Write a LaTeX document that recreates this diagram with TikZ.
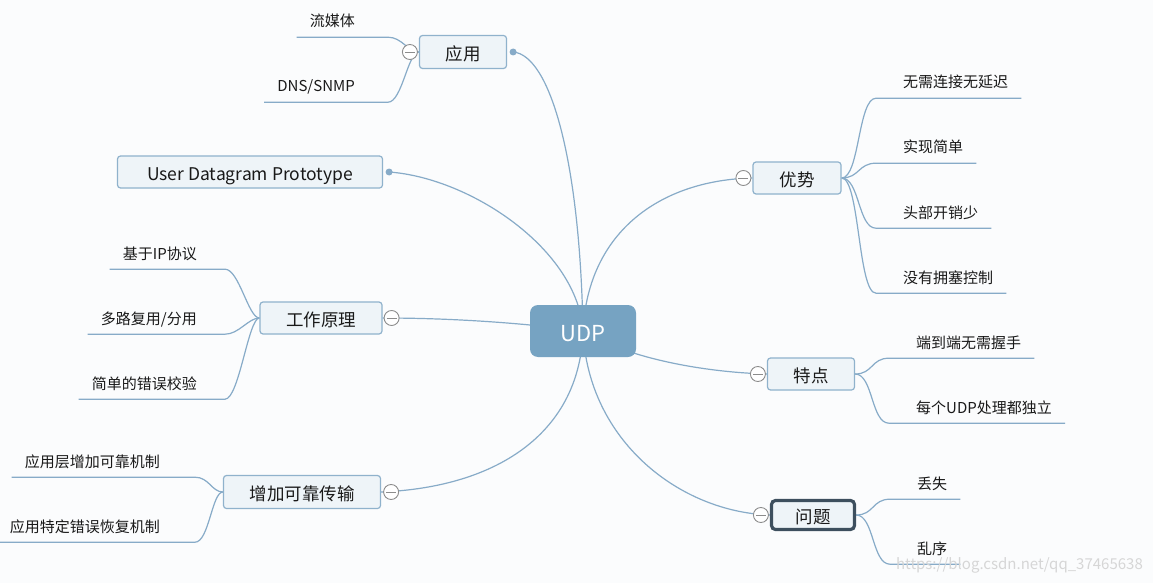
\documentclass[tikz,border=0pt]{standalone}
\usepackage{fontspec}
\setmainfont{Noto Sans CJK SC}
\usepackage{tikz}
\usetikzlibrary{backgrounds}
\definecolor{udpblue}{RGB}{118,163,194}
\definecolor{linkblue}{RGB}{135,171,200}
\definecolor{boxline}{RGB}{143,178,204}
\definecolor{boxfill}{RGB}{238,244,248}
\definecolor{darkframe}{RGB}{61,79,94}
\definecolor{paper}{RGB}{251,252,253}
\definecolor{foldgray}{RGB}{140,140,140}
\definecolor{markgray}{RGB}{214,214,214}

\begin{document}
\begin{tikzpicture}[x=1pt,y=-1pt,
    topic/.style={draw=boxline, line width=1.2pt, fill=boxfill, rounded corners=3pt, minimum height=32pt, inner sep=0pt, text height=18pt, text depth=1pt, font=\fontsize{17.5}{20}\selectfont, text=black!90},
    leaf/.style={inner xsep=13pt, inner ysep=0pt, minimum height=34pt, text height=15pt, text depth=1pt, font=\fontsize{15}{18}\selectfont, text=black!90},
    branch/.style={draw=linkblue, line width=1.2pt},
    fold/.style={circle, draw=foldgray, line width=0.9pt, fill=white, minimum size=15pt, inner sep=0pt,
        path picture={\draw[foldgray, line width=0.9pt] ([xshift=-5pt]path picture bounding box.center) -- ([xshift=5pt]path picture bounding box.center);}},
    knob/.style={circle, fill=linkblue, minimum size=7pt, inner sep=0pt}]
    \useasboundingbox (0,0) rectangle (1153,583);

    % central topic and main topics
    \node[topic, fill=udpblue, draw=none, rounded corners=8pt, minimum width=106pt, minimum height=52pt, text height=20pt, text depth=0pt, text=white, font=\fontsize{22}{26}\selectfont] (udp) at (583,331) {UDP};
    \node[topic, minimum width=87pt, minimum height=33pt] (app) at (463,52) {应用};
    \node[topic, minimum width=265pt] (full) at (250,172) {User Datagram Prototype};
    \node[topic, minimum width=122pt] (work) at (321,318) {工作原理};
    \node[topic, minimum width=157pt, minimum height=33pt] (rel) at (302,492) {增加可靠传输};
    \node[topic, minimum width=88pt] (adv) at (797,178) {优势};
    \node[topic, minimum width=87pt] (feat) at (811,374) {特点};
    \node[topic, draw=darkframe, line width=3.2pt, rounded corners=4pt, minimum width=83pt, minimum height=29pt] (prob) at (813,515) {问题};

    % leaves
    \node[leaf, anchor=east] (stream) at (368,20) {流媒体};
    \node[leaf, anchor=east] (dns) at (368,85) {DNS/SNMP};
    \node[leaf, anchor=east] (ip) at (210,252) {基于IP协议};
    \node[leaf, anchor=east] (mux) at (210,317) {多路复用/分用};
    \node[leaf, anchor=east] (chk) at (210,382) {简单的错误校验};
    \node[leaf, anchor=east] (layer) at (173,460) {应用层增加可靠机制};
    \node[leaf, anchor=east] (recover) at (173,525) {应用特定错误恢复机制};
    \node[leaf, anchor=west] (fast) at (890,81) {无需连接无延迟};
    \node[leaf, anchor=west] (simple) at (890,146) {实现简单};
    \node[leaf, anchor=west] (head) at (890,211) {头部开销少};
    \node[leaf, anchor=west] (nocc) at (890,276) {没有拥塞控制};
    \node[leaf, anchor=west] (e2e) at (903,341) {端到端无需握手};
    \node[leaf, anchor=west] (indep) at (903,406) {每个UDP处理都独立};
    \node[leaf, anchor=west] (loss) at (904,482) {丢失};
    \node[leaf, anchor=west] (order) at (904,547) {乱序};

    \node[text=markgray, font=\fontsize{15}{18}\selectfont, anchor=east, inner sep=0pt] (mark) at (1143,565) {https://blog.csdn.net/qq\_37465638};

    \begin{pgfonlayer}{background}
        \fill[paper] (0,0) rectangle (1153,583);
        % main branches
        \draw[branch] (udp.center) .. controls +(-3,-171) and +(37,3) .. ([xshift=6pt]app.east);
        \draw[branch] (udp.center) .. controls +(-5,-81) and +(82,6) .. ([xshift=6pt]full.east);
        \draw[branch] (udp.center) .. controls +(-60,-8) and +(70,0) .. (work.east);
        \draw[branch] (udp.center) .. controls +(-3,99) and +(120,-5) .. (rel.east);
        \draw[branch] (udp.center) .. controls +(5,-101) and +(-90,2) .. (adv.west);
        \draw[branch] (udp.center) .. controls +(40,25) and +(-70,-2) .. (feat.west);
        \draw[branch] (udp.center) .. controls +(5,110) and +(-90,-3) .. (prob.west);
        % left sub branches
        \foreach \leafname/\parent/\run in {stream/app/20, dns/app/20, ip/work/15, mux/work/15, chk/work/15, layer/rel/22, recover/rel/22}
            \draw[branch] (\leafname.south west) -- ([xshift=\run pt]\leafname.south east) .. controls +(14,0) and +(-11,0) .. (\parent.west);
        % right sub branches
        \foreach \leafname/\parent in {fast/adv, simple/adv, head/adv, nocc/adv, e2e/feat, indep/feat, loss/prob, order/prob}
            \draw[branch] (\parent.east) .. controls +(18,0) and +(-18,0) .. ([xshift=-14pt]\leafname.south west) -- (\leafname.south east);
    \end{pgfonlayer}

    % fold marks and knobs
    \node[fold] (app-fold) at ([xshift=-9pt]app.west) {};
    \node[fold] (work-fold) at ([xshift=9pt]work.east) {};
    \node[fold] (rel-fold) at ([xshift=10pt]rel.east) {};
    \node[fold] (adv-fold) at ([xshift=-9pt]adv.west) {};
    \node[fold] (feat-fold) at ([xshift=-9pt]feat.west) {};
    \node[fold] (prob-fold) at ([xshift=-9pt]prob.west) {};
    \node[knob] (app-knob) at ([xshift=6pt]app.east) {};
    \node[knob] (full-knob) at ([xshift=6pt]full.east) {};
\end{tikzpicture}
\end{document}
